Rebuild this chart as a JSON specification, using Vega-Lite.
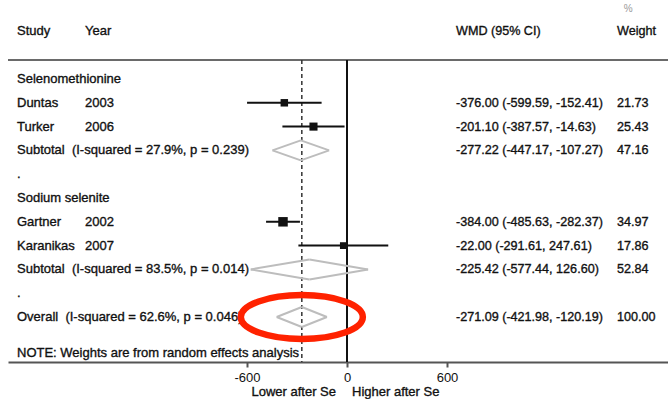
{
  "$schema": "https://vega.github.io/schema/vega-lite/v6.json",
  "width": 660,
  "height": 362,
  "autosize": "none",
  "padding": {"left": 8, "top": 0, "right": 0, "bottom": 37},
  "background": "white",
  "config": {
    "view": {"stroke": null},
    "font": "Liberation Sans",
    "text": {"font": "Liberation Sans", "fontSize": 13, "color": "#111111", "stroke": "#111111", "strokeWidth": 0.35, "baseline": "middle", "align": "left"},
    "axisX": {"grid": false, "title": null, "domainColor": "#555555", "domainWidth": 2, "tickColor": "#555555", "tickWidth": 2, "tickSize": 5, "labelFont": "Liberation Sans", "labelFontSize": 13, "labelColor": "#111111", "labelPadding": 4, "labelFlush": false, "labelOverlap": false}
  },
  "datasets": {
    "rows": [
      {"kind": "header", "row": -1, "name": "Study", "year": "Year", "ci": "WMD (95% CI)", "wt": "Weight"},
      {"kind": "group", "row": 1, "name": "Selenomethionine"},
      {"kind": "study", "row": 2, "name": "Duntas", "year": "2003", "ci": "-376.00 (-599.59, -152.41)", "wt": "21.73", "est": -376.00, "lo": -599.59, "hi": -152.41, "weight": 21.73},
      {"kind": "study", "row": 3, "name": "Turker", "year": "2006", "ci": "-201.10 (-387.57, -14.63)", "wt": "25.43", "est": -201.10, "lo": -387.57, "hi": -14.63, "weight": 25.43},
      {"kind": "subtotal", "row": 4, "name": "Subtotal\u00a0 (I-squared = 27.9%, p = 0.239)", "ci": "-277.22 (-447.17, -107.27)", "wt": "47.16", "est": -277.22, "lo": -447.17, "hi": -107.27, "weight": 47.16},
      {"kind": "blank", "row": 5, "name": "."},
      {"kind": "group", "row": 6, "name": "Sodium selenite"},
      {"kind": "study", "row": 7, "name": "Gartner", "year": "2002", "ci": "-384.00 (-485.63, -282.37)", "wt": "34.97", "est": -384.00, "lo": -485.63, "hi": -282.37, "weight": 34.97},
      {"kind": "study", "row": 8, "name": "Karanikas", "year": "2007", "ci": "-22.00 (-291.61, 247.61)", "wt": "17.86", "est": -22.00, "lo": -291.61, "hi": 247.61, "weight": 17.86},
      {"kind": "subtotal", "row": 9, "name": "Subtotal\u00a0 (I-squared = 83.5%, p = 0.014)", "ci": "-225.42 (-577.44, 126.60)", "wt": "52.84", "est": -225.42, "lo": -577.44, "hi": 126.60, "weight": 52.84},
      {"kind": "blank", "row": 10, "name": "."},
      {"kind": "overall", "row": 11, "name": "Overall\u00a0 (I-squared = 62.6%, p = 0.046)", "ci": "-271.09 (-421.98, -120.19)", "wt": "100.00", "est": -271.09, "lo": -421.98, "hi": -120.19, "weight": 100.00},
      {"kind": "note", "row": 12.5, "name": "NOTE: Weights are from random effects analysis"}
    ],
    "one": [{}]
  },
  "data": {"name": "rows"},
  "layer": [
    {
      "data": {"name": "one"},
      "mark": {"type": "rule", "color": "#6a6a6a", "strokeWidth": 2},
      "encoding": {
        "y": {"datum": 0.2, "type": "quantitative", "scale": {"domain": [-2.319, 12.89], "reverse": true, "nice": false, "zero": false}, "axis": null}
      }
    },
    {
      "transform": [{"filter": "datum.kind === 'overall'"}],
      "mark": {"type": "rule", "color": "#333333", "strokeWidth": 1.5, "strokeDash": [4, 3]},
      "encoding": {
        "x": {"field": "est", "type": "quantitative", "scale": {"domain": [-2034, 1926], "nice": false, "zero": false}, "axis": {"values": [-600, 0, 600], "labelExpr": "replace(datum.label, '\u2212', '-')"}},
        "y": {"datum": 0.2, "type": "quantitative", "scale": {"domain": [-2.319, 12.89], "reverse": true, "nice": false, "zero": false}, "axis": null},
        "y2": {"datum": 12.89}
      }
    },
    {
      "data": {"name": "one"},
      "mark": {"type": "rule", "color": "#111111", "strokeWidth": 2},
      "encoding": {
        "x": {"datum": 0, "type": "quantitative", "scale": {"domain": [-2034, 1926], "nice": false, "zero": false}, "axis": {"values": [-600, 0, 600], "labelExpr": "replace(datum.label, '\u2212', '-')"}},
        "y": {"datum": 0.2, "type": "quantitative", "scale": {"domain": [-2.319, 12.89], "reverse": true, "nice": false, "zero": false}, "axis": null},
        "y2": {"datum": 12.89}
      }
    },
    {
      "transform": [{"filter": "datum.kind === 'study'"}],
      "mark": {"type": "rule", "color": "#111111", "strokeWidth": 2},
      "encoding": {
        "x": {"field": "lo", "type": "quantitative", "scale": {"domain": [-2034, 1926], "nice": false, "zero": false}, "axis": {"values": [-600, 0, 600], "labelExpr": "replace(datum.label, '\u2212', '-')"}},
        "x2": {"field": "hi"},
        "y": {"field": "row", "type": "quantitative", "scale": {"domain": [-2.319, 12.89], "reverse": true, "nice": false, "zero": false}, "axis": null}
      }
    },
    {
      "transform": [{"filter": "datum.kind === 'study'"}],
      "mark": {"type": "point", "shape": "square", "filled": true, "color": "#111111", "opacity": 1},
      "encoding": {
        "x": {"field": "est", "type": "quantitative", "scale": {"domain": [-2034, 1926], "nice": false, "zero": false}, "axis": {"values": [-600, 0, 600], "labelExpr": "replace(datum.label, '\u2212', '-')"}},
        "y": {"field": "row", "type": "quantitative", "scale": {"domain": [-2.319, 12.89], "reverse": true, "nice": false, "zero": false}, "axis": null},
        "size": {"field": "weight", "type": "quantitative", "scale": {"domain": [0, 35], "range": [0, 90], "zero": true}, "legend": null}
      }
    },
    {
      "transform": [{"filter": "datum.kind === 'subtotal' || datum.kind === 'overall'"}],
      "mark": {"type": "rule", "color": "#bdbdbd", "strokeWidth": 2, "y2Offset": -10},
      "encoding": {
        "x": {"field": "lo", "type": "quantitative", "scale": {"domain": [-2034, 1926], "nice": false, "zero": false}, "axis": {"values": [-600, 0, 600], "labelExpr": "replace(datum.label, '\u2212', '-')"}},
        "x2": {"field": "est"},
        "y": {"field": "row", "type": "quantitative", "scale": {"domain": [-2.319, 12.89], "reverse": true, "nice": false, "zero": false}, "axis": null},
        "y2": {"field": "row"}
      }
    },
    {
      "transform": [{"filter": "datum.kind === 'subtotal' || datum.kind === 'overall'"}],
      "mark": {"type": "rule", "color": "#bdbdbd", "strokeWidth": 2, "y2Offset": 10},
      "encoding": {
        "x": {"field": "lo", "type": "quantitative", "scale": {"domain": [-2034, 1926], "nice": false, "zero": false}, "axis": {"values": [-600, 0, 600], "labelExpr": "replace(datum.label, '\u2212', '-')"}},
        "x2": {"field": "est"},
        "y": {"field": "row", "type": "quantitative", "scale": {"domain": [-2.319, 12.89], "reverse": true, "nice": false, "zero": false}, "axis": null},
        "y2": {"field": "row"}
      }
    },
    {
      "transform": [{"filter": "datum.kind === 'subtotal' || datum.kind === 'overall'"}],
      "mark": {"type": "rule", "color": "#bdbdbd", "strokeWidth": 2, "yOffset": -10},
      "encoding": {
        "x": {"field": "est", "type": "quantitative", "scale": {"domain": [-2034, 1926], "nice": false, "zero": false}, "axis": {"values": [-600, 0, 600], "labelExpr": "replace(datum.label, '\u2212', '-')"}},
        "x2": {"field": "hi"},
        "y": {"field": "row", "type": "quantitative", "scale": {"domain": [-2.319, 12.89], "reverse": true, "nice": false, "zero": false}, "axis": null},
        "y2": {"field": "row"}
      }
    },
    {
      "transform": [{"filter": "datum.kind === 'subtotal' || datum.kind === 'overall'"}],
      "mark": {"type": "rule", "color": "#bdbdbd", "strokeWidth": 2, "yOffset": 10},
      "encoding": {
        "x": {"field": "est", "type": "quantitative", "scale": {"domain": [-2034, 1926], "nice": false, "zero": false}, "axis": {"values": [-600, 0, 600], "labelExpr": "replace(datum.label, '\u2212', '-')"}},
        "x2": {"field": "hi"},
        "y": {"field": "row", "type": "quantitative", "scale": {"domain": [-2.319, 12.89], "reverse": true, "nice": false, "zero": false}, "axis": null},
        "y2": {"field": "row"}
      }
    },
    {
      "mark": {"type": "text"},
      "encoding": {
        "x": {"datum": -1980, "type": "quantitative", "scale": {"domain": [-2034, 1926], "nice": false, "zero": false}, "axis": {"values": [-600, 0, 600], "labelExpr": "replace(datum.label, '\u2212', '-')"}},
        "y": {"field": "row", "type": "quantitative", "scale": {"domain": [-2.319, 12.89], "reverse": true, "nice": false, "zero": false}, "axis": null},
        "text": {"field": "name"}
      }
    },
    {
      "transform": [{"filter": "datum.year"}],
      "mark": {"type": "text"},
      "encoding": {
        "x": {"datum": -1572, "type": "quantitative", "scale": {"domain": [-2034, 1926], "nice": false, "zero": false}, "axis": {"values": [-600, 0, 600], "labelExpr": "replace(datum.label, '\u2212', '-')"}},
        "y": {"field": "row", "type": "quantitative", "scale": {"domain": [-2.319, 12.89], "reverse": true, "nice": false, "zero": false}, "axis": null},
        "text": {"field": "year"}
      }
    },
    {
      "transform": [{"filter": "datum.ci"}],
      "mark": {"type": "text", "fontSize": 12.6},
      "encoding": {
        "x": {"datum": 654, "type": "quantitative", "scale": {"domain": [-2034, 1926], "nice": false, "zero": false}, "axis": {"values": [-600, 0, 600], "labelExpr": "replace(datum.label, '\u2212', '-')"}},
        "y": {"field": "row", "type": "quantitative", "scale": {"domain": [-2.319, 12.89], "reverse": true, "nice": false, "zero": false}, "axis": null},
        "text": {"field": "ci"}
      }
    },
    {
      "transform": [{"filter": "datum.wt"}],
      "mark": {"type": "text", "fontSize": 12.6},
      "encoding": {
        "x": {"datum": 1620, "type": "quantitative", "scale": {"domain": [-2034, 1926], "nice": false, "zero": false}, "axis": {"values": [-600, 0, 600], "labelExpr": "replace(datum.label, '\u2212', '-')"}},
        "y": {"field": "row", "type": "quantitative", "scale": {"domain": [-2.319, 12.89], "reverse": true, "nice": false, "zero": false}, "axis": null},
        "text": {"field": "wt"}
      }
    },
    {
      "data": {"name": "one"},
      "mark": {"type": "text", "fontSize": 10, "baseline": "alphabetic", "color": "#999999", "stroke": null},
      "encoding": {
        "x": {"datum": 1660, "type": "quantitative", "scale": {"domain": [-2034, 1926], "nice": false, "zero": false}, "axis": {"values": [-600, 0, 600], "labelExpr": "replace(datum.label, '\u2212', '-')"}},
        "y": {"datum": -1.82, "type": "quantitative", "scale": {"domain": [-2.319, 12.89], "reverse": true, "nice": false, "zero": false}, "axis": null},
        "text": {"value": "%"}
      }
    },
    {
      "data": {"name": "one"},
      "mark": {"type": "text", "align": "right"},
      "encoding": {
        "x": {"datum": -66, "type": "quantitative", "scale": {"domain": [-2034, 1926], "nice": false, "zero": false}, "axis": {"values": [-600, 0, 600], "labelExpr": "replace(datum.label, '\u2212', '-')"}},
        "y": {"datum": 14.15, "type": "quantitative", "scale": {"domain": [-2.319, 12.89], "reverse": true, "nice": false, "zero": false}, "axis": null},
        "text": {"value": "Lower after Se"}
      }
    },
    {
      "data": {"name": "one"},
      "mark": {"type": "text", "align": "left"},
      "encoding": {
        "x": {"datum": 30, "type": "quantitative", "scale": {"domain": [-2034, 1926], "nice": false, "zero": false}, "axis": {"values": [-600, 0, 600], "labelExpr": "replace(datum.label, '\u2212', '-')"}},
        "y": {"datum": 14.15, "type": "quantitative", "scale": {"domain": [-2.319, 12.89], "reverse": true, "nice": false, "zero": false}, "axis": null},
        "text": {"value": "Higher after Se"}
      }
    },
    {
      "transform": [{"filter": "datum.kind === 'overall'"}],
      "mark": {"type": "point", "shape": "M-1,0C-1,-0.1988,-0.5523,-0.36,0,-0.36C0.5523,-0.36,1,-0.1988,1,0C1,0.1988,0.5523,0.36,0,0.36C-0.5523,0.36,-1,0.1988,-1,0Z", "filled": false, "stroke": "#ff2200", "strokeWidth": 6.5, "opacity": 1, "size": 14884},
      "encoding": {
        "x": {"field": "est", "type": "quantitative", "scale": {"domain": [-2034, 1926], "nice": false, "zero": false}, "axis": {"values": [-600, 0, 600], "labelExpr": "replace(datum.label, '\u2212', '-')"}},
        "y": {"field": "row", "type": "quantitative", "scale": {"domain": [-2.319, 12.89], "reverse": true, "nice": false, "zero": false}, "axis": null}
      }
    }
  ]
}
